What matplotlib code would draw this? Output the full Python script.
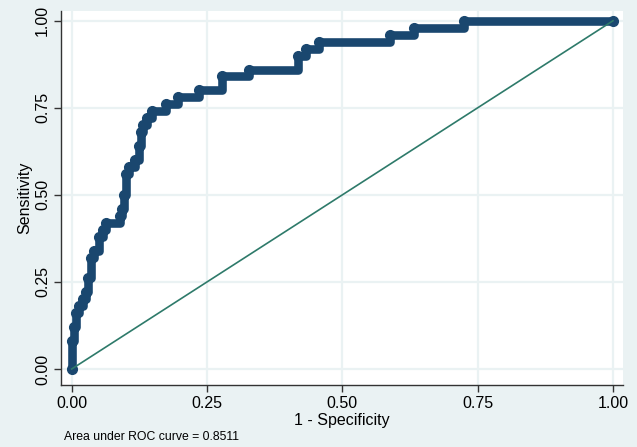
import numpy as np
import matplotlib
matplotlib.use("Agg")
import matplotlib.pyplot as plt

# ROC points (1 - specificity, sensitivity)
fpr = [0.000, 0.000, 0.004, 0.008, 0.013, 0.020, 0.026, 0.031, 0.035, 0.041,
       0.050, 0.057, 0.063, 0.089, 0.092, 0.097, 0.100, 0.106, 0.116, 0.124,
       0.128, 0.132, 0.140, 0.148, 0.175, 0.197, 0.236, 0.277, 0.328, 0.418,
       0.433, 0.457, 0.588, 0.633, 0.725, 1.000]
tpr = [0.00, 0.08, 0.12, 0.16, 0.18, 0.20, 0.22, 0.26, 0.32, 0.34,
       0.38, 0.40, 0.42, 0.44, 0.46, 0.50, 0.56, 0.58, 0.60, 0.64,
       0.68, 0.70, 0.72, 0.74, 0.76, 0.78, 0.80, 0.84, 0.86, 0.90,
       0.92, 0.94, 0.96, 0.98, 1.00, 1.00]
ref_x = [0, 1]
ref_y = [0, 1]
ticks = [0, 0.25, 0.5, 0.75, 1.0]
tick_labels = ["0.00", "0.25", "0.50", "0.75", "1.00"]
auc_text = "Area under ROC curve = 0.8511"

plt.rcParams['font.family'] = ['Liberation Sans', 'DejaVu Sans']
bg = '#eaf2f3'
navy = '#1a476f'
green = '#2e7a6a'

fig = plt.figure(figsize=(6.37, 4.47), dpi=100, facecolor=bg)
ax = fig.add_axes([61/637, 1-385/447, 562/637, 374/447])
ax.set_facecolor('white')

ax.grid(True, color=bg, linewidth=1.6, zorder=0)
ax.set_axisbelow(True)

# the curve: dense overlapping markers in the original -> thick step line + markers
ax.plot(fpr, tpr, drawstyle='steps-post', color=navy, linewidth=6.2,
        solid_capstyle='round', solid_joinstyle='round', zorder=3)
ax.plot(fpr, tpr, 'o', color=navy, markersize=7, zorder=4)
ax.plot(ref_x, ref_y, color=green, linewidth=1.2, zorder=5)

ax.set_xlim(-0.0198, 1.0185)
ax.set_ylim(-0.046, 1.028)
ax.set_xticks(ticks)
ax.set_xticklabels(tick_labels, fontsize=11.5)
ax.set_yticks(ticks)
ax.set_yticklabels(tick_labels, fontsize=11.5, rotation=90, va='center')
ax.tick_params(axis='both', direction='out', length=5, width=1, color='#333333', pad=3)

for s in ['top', 'right']:
    ax.spines[s].set_visible(False)
for s in ['left', 'bottom']:
    ax.spines[s].set_color('#333333')
    ax.spines[s].set_linewidth(1)

ax.set_xlabel("1 - Specificity", fontsize=11.5, labelpad=1)
ax.set_ylabel("Sensitivity", fontsize=11.5, labelpad=2)

fig.text(64/637, 1-437/447, auc_text, fontsize=8.8, va='center', ha='left')

fig.savefig("out.png", dpi=100, facecolor=bg)
